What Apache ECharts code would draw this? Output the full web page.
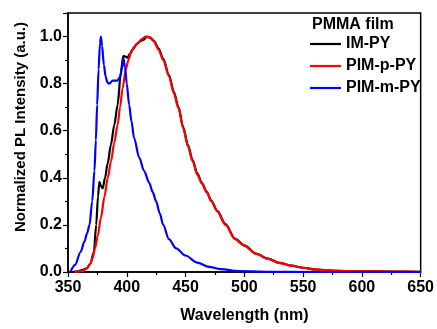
<!DOCTYPE html>
<html>
<head>
<meta charset="utf-8">
<script src="https://cdn.jsdelivr.net/npm/echarts@6/dist/echarts.min.js"></script>
<style>
  html, body { margin: 0; padding: 0; background: #fff; }
  #main { width: 437px; height: 329px; }
</style>
</head>
<body>
<div id="main"></div>
<script>
// IM-PY
const imWl = [354, 358, 362, 366, 369, 372, 374, 375.5, 376.7, 378, 379.5, 381.5, 383.7, 386.5, 389.4, 392.2, 395, 397, 399, 400.6, 402.5, 404.8, 409, 411, 414, 417.5, 420, 423, 427, 431, 436, 440, 444, 448, 452, 456, 460, 464, 468, 472, 477, 484, 492, 500, 510, 520, 530, 540, 550, 560, 570, 580, 600, 625, 650];
const imVal = [0, 0.003, 0.008, 0.015, 0.035, 0.085, 0.2, 0.32, 0.383, 0.365, 0.355, 0.4, 0.46, 0.54, 0.625, 0.71, 0.85, 0.917, 0.915, 0.91, 0.925, 0.945, 0.97, 0.98, 0.986, 1.0, 0.995, 0.982, 0.95, 0.905, 0.835, 0.765, 0.7, 0.615, 0.54, 0.475, 0.418, 0.378, 0.34, 0.302, 0.26, 0.203, 0.142, 0.113, 0.078, 0.057, 0.039, 0.027, 0.018, 0.011, 0.007, 0.005, 0.003, 0.002, 0.001];

// PIM-p-PY
const pWl = [356, 362, 366, 369, 371, 373, 375.3, 378, 381, 383.8, 386.6, 389.4, 392.2, 394.3, 396.4, 399.2, 401.4, 403.5, 406, 409, 413, 416, 420, 423, 427, 431, 436, 440, 444, 448, 452, 456, 460, 464, 468, 472, 477, 484, 492, 500, 510, 520, 530, 540, 550, 560, 570, 580, 600, 625, 650];
const pVal = [0, 0.004, 0.015, 0.035, 0.06, 0.1, 0.154, 0.23, 0.32, 0.4, 0.47, 0.55, 0.625, 0.7, 0.78, 0.86, 0.9, 0.93, 0.955, 0.97, 0.99, 1.0, 0.995, 0.98, 0.945, 0.9, 0.83, 0.76, 0.695, 0.61, 0.535, 0.47, 0.414, 0.374, 0.338, 0.3, 0.257, 0.2, 0.14, 0.112, 0.077, 0.056, 0.038, 0.027, 0.018, 0.011, 0.007, 0.005, 0.003, 0.002, 0.001];

// PIM-m-PY
const mWl = [352, 356, 360.7, 364, 366.3, 368.3, 370.6, 372.5, 373.7, 374.8, 376, 377.2, 378, 379, 380.5, 382, 383.5, 385.2, 388, 392, 394.5, 396, 397.3, 398.5, 400, 402, 404, 406.2, 410.5, 414.7, 419, 422, 425, 428, 431, 435.8, 442, 450, 460, 470, 480, 495, 520, 560, 650];
const mVal = [0, 0.03, 0.085, 0.13, 0.165, 0.2, 0.3, 0.43, 0.56, 0.71, 0.86, 0.97, 1.0, 0.96, 0.88, 0.83, 0.805, 0.8, 0.813, 0.813, 0.83, 0.87, 0.905, 0.87, 0.8, 0.71, 0.64, 0.57, 0.487, 0.43, 0.38, 0.34, 0.3, 0.25, 0.2, 0.14, 0.1, 0.07, 0.04, 0.022, 0.012, 0.004, 0.001, 0, 0];

const seriesNames = ['IM-PY', 'PIM-p-PY', 'PIM-m-PY'];
const seriesColors = ['#000000', '#ff0000', '#0000ff'];
const xTicks = [350, 650, 50];
const yTicks = [0, 1.1, 0.2];

const pairs = (xs, ys) => xs.map((x, i) => [x, ys[i]]);
const seriesData = [pairs(imWl, imVal), pairs(pWl, pVal), pairs(mWl, mVal)];

const font = '"Liberation Sans", Arial, sans-serif';
const chart = echarts.init(document.getElementById('main'), null, { renderer: 'canvas' });

const option = {
  backgroundColor: '#fff',
  animation: false,
  title: {
    text: 'PMMA film',
    left: 312,
    top: 17,
    padding: 0,
    textStyle: { fontFamily: font, fontSize: 16, fontWeight: 'bold', color: '#000', lineHeight: 16 }
  },
  legend: {
    orient: 'vertical',
    left: 310,
    top: 36,
    padding: 0,
    icon: 'rect',
    itemWidth: 31,
    itemHeight: 2.2,
    itemGap: 6,
    textStyle: { fontFamily: font, fontSize: 16, fontWeight: 'bold', color: '#000', lineHeight: 16 },
    data: seriesNames
  },
  grid: {
    left: 68, right: 13, top: 13, bottom: 52,
    show: true, borderColor: '#000', borderWidth: 1.5
  },
  xAxis: {
    type: 'value',
    min: xTicks[0], max: xTicks[1], interval: xTicks[2],
    name: 'Wavelength (nm)',
    nameLocation: 'middle',
    nameGap: 36,
    nameTextStyle: { fontFamily: font, fontSize: 16, fontWeight: 'bold', color: '#000' },
    axisLine: { lineStyle: { color: '#000', width: 1.5 } },
    axisTick: { show: true, length: 5, lineStyle: { color: '#000', width: 1.2 } },
    minorTick: { show: true, splitNumber: 2, length: 3, lineStyle: { color: '#000', width: 1.2 } },
    axisLabel: { margin: 8, fontFamily: font, fontSize: 16, fontWeight: 'bold', color: '#000' },
    splitLine: { show: false }
  },
  yAxis: {
    type: 'value',
    min: yTicks[0], max: yTicks[1], interval: yTicks[2],
    axisLine: { show: true, lineStyle: { color: '#000', width: 1.5 } },
    axisTick: { show: true, length: 5, lineStyle: { color: '#000', width: 1.2 } },
    minorTick: { show: true, splitNumber: 2, length: 3, lineStyle: { color: '#000', width: 1.2 } },
    axisLabel: {
      margin: 6, fontFamily: font, fontSize: 16, fontWeight: 'bold', color: '#000',
      showMaxLabel: false,
      formatter: (v) => v.toFixed(1)
    },
    splitLine: { show: false }
  },
  graphic: [{
    type: 'text',
    x: 21,
    y: 127,
    rotation: Math.PI / 2,
    style: {
      text: 'Normalized PL Intensity (a.u.)',
      font: 'bold 15px ' + font,
      fill: '#000',
      align: 'center',
      verticalAlign: 'middle'
    }
  }],
  series: seriesNames.map((name, i) => ({
    name,
    type: 'line',
    data: seriesData[i],
    symbol: 'none',
    smooth: 0.3,
    smoothMonotone: 'x',
    color: seriesColors[i],
    lineStyle: { color: seriesColors[i], width: 2.2 },
    z: 2 + i
  }))
};

chart.setOption(option);
</script>
</body>
</html>
